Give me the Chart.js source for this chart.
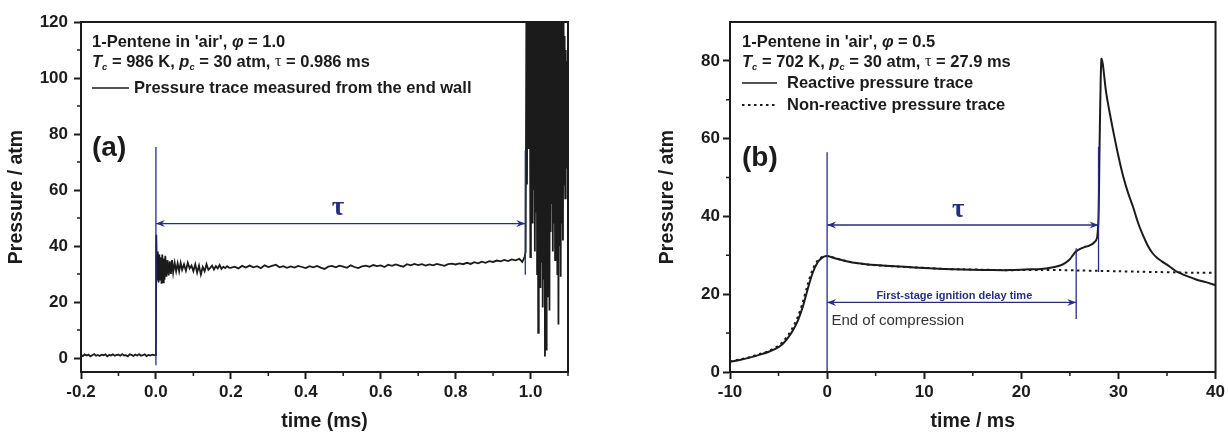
<!DOCTYPE html>
<html>
<head>
<meta charset="utf-8">
<script src="https://cdn.jsdelivr.net/npm/chart.js@4.4.1/dist/chart.umd.min.js"></script>
<style>
  html, body { margin: 0; padding: 0; background: #fff; }
  #wrap { position: relative; width: 1228px; height: 433px; }
  .box { position: absolute; top: 0; width: 614px; height: 433px; }
</style>
</head>
<body>
<div id="wrap">
  <div class="box" style="left:0"><canvas id="chartA" width="614" height="433"></canvas></div>
  <div class="box" style="left:614px"><canvas id="chartB" width="614" height="433"></canvas></div>
</div>
<script>
// (a) pressure trace, phi = 1.0
const timeA = [
  -0.2, -0.195, -0.19, -0.185, -0.18, -0.175, -0.17, -0.165, -0.16, -0.155,
  -0.15, -0.145, -0.14, -0.135, -0.13, -0.125, -0.12, -0.115, -0.11, -0.105,
  -0.1, -0.095, -0.09, -0.085, -0.08, -0.075, -0.07, -0.065, -0.06, -0.055,
  -0.05, -0.045, -0.04, -0.035, -0.03, -0.025, -0.02, -0.015, -0.01, -0.005,
  0, 0.001, 0.003, 0.005, 0.007, 0.009, 0.011, 0.013, 0.015, 0.017, 0.019, 0.021, 0.023, 0.025,
  0.028, 0.031, 0.034, 0.037, 0.04, 0.043, 0.046, 0.05, 0.054, 0.058, 0.062, 0.066, 0.07,
  0.075, 0.08, 0.085, 0.09, 0.095, 0.1, 0.105, 0.11, 0.115, 0.12, 0.125, 0.13, 0.135, 0.14,
  0.145, 0.15, 0.155, 0.16, 0.165, 0.17, 0.175, 0.18, 0.185, 0.19, 0.195, 0.2,
  0.21, 0.22, 0.23, 0.24, 0.25, 0.26, 0.27, 0.28, 0.29, 0.3,
  0.31, 0.32, 0.33, 0.34, 0.35, 0.36, 0.37, 0.38, 0.39, 0.4,
  0.41, 0.42, 0.43, 0.44, 0.45, 0.46, 0.47, 0.48, 0.49, 0.5,
  0.51, 0.52, 0.53, 0.54, 0.55, 0.56, 0.57, 0.58, 0.59, 0.6,
  0.61, 0.62, 0.63, 0.64, 0.65, 0.66, 0.67, 0.68, 0.69, 0.7,
  0.71, 0.72, 0.73, 0.74, 0.75, 0.76, 0.77, 0.78, 0.79, 0.8,
  0.81, 0.82, 0.83, 0.84, 0.85, 0.86, 0.87, 0.88, 0.89, 0.9,
  0.91, 0.92, 0.93, 0.94, 0.95, 0.96, 0.97, 0.978, 0.984, 0.987,
  0.989, 0.9905, 0.992, 0.9935, 0.995, 0.9965, 0.998, 0.9995, 1.001, 1.0025,
  1.004, 1.0055, 1.007, 1.0085, 1.01, 1.0115, 1.013, 1.0145, 1.016, 1.0175,
  1.019, 1.0205, 1.022, 1.0235, 1.025, 1.0265, 1.028, 1.0295, 1.031, 1.0325,
  1.034, 1.0355, 1.037, 1.0385, 1.04, 1.0415, 1.043, 1.0445, 1.046, 1.0475,
  1.049, 1.0505, 1.052, 1.0535, 1.055, 1.0565, 1.058, 1.0595, 1.061, 1.0625,
  1.064, 1.0655, 1.067, 1.0685, 1.07, 1.0715, 1.073, 1.0745, 1.076, 1.0775,
  1.079, 1.0805, 1.082, 1.0835, 1.085, 1.0865, 1.088, 1.0895, 1.091, 1.0925,
  1.094, 1.0955, 1.097, 1.0985, 1.1
];
const pressureA = [
  1.1, 0.7, 1.3, 0.9, 1.2, 0.6, 1.0, 1.4, 0.8, 1.1,
  0.7, 1.2, 1.0, 1.3, 0.6, 1.1, 0.9, 1.3, 0.8, 1.1,
  1.2, 0.8, 1.4, 0.9, 1.0, 0.6, 1.3, 1.1, 0.7, 1.2,
  0.9, 1.4, 0.8, 1.0, 1.3, 0.7, 1.1, 0.9, 1.2, 1.0,
  1.0, 44, 28, 38, 27, 37, 28, 36, 26.5, 37, 27, 35.5, 28, 36.5,
  29, 35, 29.5, 34.5, 30, 35, 30.5, 34, 31, 33.8, 31, 34, 31.5,
  33.5, 31.2, 34, 32, 33, 31, 33.5, 30.5, 33, 29.8, 32.5, 31, 33.5, 31.5,
  32.2, 33, 31.6, 32.8, 32, 33.2, 31.8, 32.6, 32.1, 32.8, 32.3, 32.2,
  32.6, 32.0, 32.9, 32.3, 33.0, 32.4, 32.8, 32.1, 33.1, 32.5,
  32.9, 33.3, 32.4, 32.8, 32.2, 32.7, 32.3, 32.9, 32.5, 32.1,
  32.8, 32.4, 32.9, 32.3, 31.8, 32.6, 32.9, 32.4, 33.0, 32.6,
  32.2, 33.1, 32.5, 32.1, 32.7, 33.0, 32.6, 33.2, 32.8, 33.1,
  32.5, 33.3, 32.9, 33.4, 33.0, 32.6, 33.5, 33.1, 33.6, 33.2,
  33.5, 33.0, 33.4, 33.1, 33.6, 33.3, 32.9, 33.5, 33.7, 33.4,
  33.8, 33.5, 34.0, 33.6, 34.2, 33.8, 34.4, 34.0, 34.6, 34.3,
  34.8, 34.5, 35.0, 34.6, 35.2, 34.9, 35.4, 34.3, 36.0, 38,
  130, 62, 140, 75, 135, 88, 140, 36, 132, 70,
  140, 48, 130, 60, 138, 38, 135, 52, 140, 30,
  128, 9, 140, 42, 132, 25, 138, 34, 130, 18,
  140, 28, 135, 0.5, 130, 3, 138, 22, 132, 40,
  140, 17, 128, 45, 136, 55, 124, 38, 133, 48,
  122, 35, 130, 58, 126, 30, 135, 12, 120, 40,
  128, 29, 118, 48, 125, 42, 130, 62, 115, 57,
  110, 68, 106, 72, 100
];

// (b) reactive and non-reactive traces, phi = 0.5
const timeB = [-10, -9, -8, -7, -6, -5, -4.5, -4, -3.5, -3, -2.5, -2, -1.5, -1, -0.5, 0,
  1, 2, 3, 4, 5, 7, 9, 11, 13, 15, 17, 19, 21, 22, 23, 24, 24.5, 25, 25.3, 25.6,
  26, 26.5, 27, 27.5, 27.8, 27.95, 28.05, 28.15, 28.25, 28.4, 28.7, 29, 29.5, 30,
  30.5, 31, 31.5, 32, 32.5, 33, 33.5, 34, 34.5, 35, 35.5, 36, 37, 38, 39, 40];
const reactiveB = [2.6, 3.1, 3.7, 4.4, 5.2, 6.4, 7.4, 8.9, 10.8, 13.3, 16.8, 21.3, 25.4, 28.1, 29.4, 29.8,
  29.1, 28.5, 28.0, 27.7, 27.5, 27.2, 26.9, 26.6, 26.4, 26.3, 26.2, 26.2, 26.4, 26.5, 26.8, 27.4, 28.0, 29.0, 30.0, 30.9,
  31.6, 32.1, 32.5, 33.3, 34.5, 40, 57, 72, 80.5, 79, 72.5, 68, 61.5, 55.5,
  50.2, 46, 42.5, 38.5, 35.3, 32.6, 30.6, 29.3, 28.4, 27.6, 26.7, 25.8, 24.7, 23.8, 23.1, 22.3];
const timeNR = [-10, -9, -8, -7, -6, -5, -4.5, -4, -3.5, -3, -2.5, -2, -1.5, -1, -0.5, 0,
  2, 4, 6, 8, 10, 12, 14, 16, 18, 20, 22, 24, 26, 28, 30, 32, 34, 36, 38, 40];
const nonReactiveB = [2.7, 3.2, 3.8, 4.6, 5.4, 6.8, 7.9, 9.5, 11.6, 14.3, 18.0, 22.5, 26.3, 28.6, 29.6, 29.8,
  28.5, 27.7, 27.3, 27.0, 26.8, 26.5, 26.4, 26.3, 26.2, 26.2, 26.2, 26.2, 26.1, 26.0, 25.9, 25.8, 25.7, 25.6, 25.5, 25.5];

const minorXA = [-0.1, 0.1, 0.3, 0.5, 0.7, 0.9, 1.1];
const minorYA = [10, 30, 50, 70, 90, 110];
const minorXB = [-5, 5, 15, 25, 35];
const minorYB = [10, 30, 50, 70];

const INK = '#1b1b1b';
const NAVY = '#262f7f';
const FAM = '"Liberation Sans", Arial, sans-serif';
Chart.defaults.font.family = FAM;
Chart.defaults.color = INK;

const pts = (xs, ys) => xs.map((t, i) => ({ x: t, y: ys[i] }));

function runs(ctx, x, y, list) {
  let cx = x;
  list.forEach(r => {
    ctx.font = r[1];
    ctx.fillText(r[0], cx, y + (r[2] || 0));
    cx += ctx.measureText(r[0]).width;
  });
}
function head(ctx, x, y, dir) {
  ctx.beginPath();
  ctx.moveTo(x, y);
  ctx.lineTo(x - dir * 9, y - 3.5);
  ctx.lineTo(x - dir * 6, y);
  ctx.lineTo(x - dir * 9, y + 3.5);
  ctx.closePath();
  ctx.fill();
}
function span(ctx, x1, x2, y) {
  ctx.beginPath(); ctx.moveTo(x1, y); ctx.lineTo(x2, y); ctx.stroke();
  head(ctx, x1, y, -1); head(ctx, x2, y, 1);
}
function vline(ctx, x, y1, y2) {
  ctx.beginPath(); ctx.moveTo(x, y1); ctx.lineTo(x, y2); ctx.stroke();
}

const B = 'bold 16.5px ' + FAM;
const BI = 'italic bold 16.5px ' + FAM;
const SUB = 'italic bold 9.5px ' + FAM;
const TAU = '16px "Liberation Serif", serif';
const TAUBIG = 'bold 27px "Liberation Serif", serif';

const frame = {
  id: 'frame',
  afterDraw(chart, args, opts) {
    const { ctx, chartArea: a, scales: { x, y } } = chart;
    ctx.save();
    ctx.strokeStyle = INK;
    ctx.lineWidth = 2;
    ctx.strokeRect(a.left, a.top, a.right - a.left, a.bottom - a.top);
    ctx.lineWidth = 1.5;
    ctx.beginPath();
    opts.minorX.forEach(v => { const p = x.getPixelForValue(v); ctx.moveTo(p, a.bottom); ctx.lineTo(p, a.bottom + 4); });
    opts.minorY.forEach(v => { const p = y.getPixelForValue(v); ctx.moveTo(a.left, p); ctx.lineTo(a.left - 4, p); });
    ctx.stroke();
    ctx.restore();
  }
};

const annA = {
  id: 'annA',
  afterDatasetsDraw(chart) {
    const { ctx, chartArea: a, scales: { x, y } } = chart;
    ctx.save();
    ctx.strokeStyle = NAVY; ctx.fillStyle = NAVY; ctx.lineWidth = 1.3;
    vline(ctx, x.getPixelForValue(0), y.getPixelForValue(-2.6), y.getPixelForValue(75.4));
    vline(ctx, x.getPixelForValue(0.986), y.getPixelForValue(29.7), y.getPixelForValue(74));
    span(ctx, x.getPixelForValue(0), x.getPixelForValue(0.986), y.getPixelForValue(48));
    ctx.font = TAUBIG;
    ctx.textAlign = 'center'; ctx.textBaseline = 'middle';
    ctx.fillText('τ', x.getPixelForValue(0.486), y.getPixelForValue(53.6));

    ctx.fillStyle = INK; ctx.strokeStyle = INK; ctx.textAlign = 'left';
    const tx = a.left + 11;
    runs(ctx, tx, a.top + 20, [["1-Pentene in 'air', ", B], ['φ', BI], [' = 1.0', B]]);
    runs(ctx, tx, a.top + 40, [['T', BI], ['c', SUB, 5], [' = 986 K, ', B], ['p', BI], ['c', SUB, 5],
      [' = 30 atm, ', B], ['τ', TAU], [' = 0.986 ms', B]]);
    ctx.lineWidth = 1.6;
    ctx.beginPath(); ctx.moveTo(tx, a.top + 66); ctx.lineTo(tx + 37, a.top + 66); ctx.stroke();
    runs(ctx, tx + 42, a.top + 66, [['Pressure trace measured from the end wall', B]]);
    ctx.font = 'bold 28px ' + FAM;
    ctx.fillText('(a)', tx, a.top + 126);
    ctx.restore();
  }
};

const annB = {
  id: 'annB',
  afterDatasetsDraw(chart) {
    const { ctx, chartArea: a, scales: { x, y } } = chart;
    ctx.save();
    ctx.strokeStyle = NAVY; ctx.fillStyle = NAVY; ctx.lineWidth = 1.3;
    vline(ctx, x.getPixelForValue(0), y.getPixelForValue(0), y.getPixelForValue(56.5));
    vline(ctx, x.getPixelForValue(27.95), y.getPixelForValue(25.7), y.getPixelForValue(57.9));
    vline(ctx, x.getPixelForValue(25.65), y.getPixelForValue(13.6), y.getPixelForValue(31.8));
    span(ctx, x.getPixelForValue(0), x.getPixelForValue(27.95), y.getPixelForValue(37.8));
    span(ctx, x.getPixelForValue(0), x.getPixelForValue(25.65), y.getPixelForValue(17.9));
    ctx.textAlign = 'center'; ctx.textBaseline = 'middle';
    ctx.font = TAUBIG;
    ctx.fillText('τ', x.getPixelForValue(13.5), y.getPixelForValue(41.6));
    ctx.font = 'bold 11px ' + FAM;
    ctx.fillText('First-stage ignition delay time', x.getPixelForValue(13.1), y.getPixelForValue(19.6));
    ctx.textAlign = 'left';
    ctx.fillStyle = '#333';
    ctx.font = '15px ' + FAM;
    ctx.fillText('End of compression', x.getPixelForValue(0.45), y.getPixelForValue(13.2));

    ctx.fillStyle = INK; ctx.strokeStyle = INK;
    const tx = a.left + 12;
    runs(ctx, tx, a.top + 20, [["1-Pentene in 'air', ", B], ['φ', BI], [' = 0.5', B]]);
    runs(ctx, tx, a.top + 40, [['T', BI], ['c', SUB, 5], [' = 702 K, ', B], ['p', BI], ['c', SUB, 5],
      [' = 30 atm, ', B], ['τ', TAU], [' = 27.9 ms', B]]);
    ctx.lineWidth = 1.6;
    ctx.beginPath(); ctx.moveTo(tx, a.top + 61); ctx.lineTo(tx + 35, a.top + 61); ctx.stroke();
    ctx.setLineDash([2.5, 3.5]);
    ctx.lineWidth = 2;
    ctx.beginPath(); ctx.moveTo(tx, a.top + 83); ctx.lineTo(tx + 35, a.top + 83); ctx.stroke();
    ctx.setLineDash([]);
    runs(ctx, tx + 45, a.top + 61, [['Reactive pressure trace', B]]);
    runs(ctx, tx + 45, a.top + 83, [['Non-reactive pressure trace', B]]);
    ctx.font = 'bold 28px ' + FAM;
    ctx.fillText('(b)', tx, a.top + 136);
    ctx.restore();
  }
};

function axes(cfg) {
  const tickFont = { size: 17, weight: 'bold' };
  const titleFont = { size: 19.5, weight: 'bold' };
  const grid = { display: true, drawOnChartArea: false, drawTicks: true, tickLength: 7, tickWidth: 2, tickColor: INK };
  const border = { display: true, width: 2, color: INK };
  return {
    x: {
      type: 'linear', min: cfg.xmin, max: cfg.xmax,
      afterFit: s => { s.height = 61; },
      ticks: { stepSize: cfg.xstep, includeBounds: false, autoSkip: false, maxRotation: 0, font: tickFont, color: INK, padding: 3,
        callback: cfg.xfmt },
      grid, border,
      title: { display: true, text: cfg.xtitle, font: titleFont, color: INK, padding: { top: 0, bottom: 0 } }
    },
    y: {
      type: 'linear', min: cfg.ymin, max: cfg.ymax,
      afterFit: s => { s.width = cfg.ywidth; },
      ticks: { stepSize: 20, includeBounds: false, autoSkip: false, font: tickFont, color: INK, padding: cfg.ypad },
      grid, border,
      title: { display: true, text: 'Pressure / atm', font: titleFont, color: INK, padding: { top: cfg.ytitlePad, bottom: 0 } }
    }
  };
}

new Chart(document.getElementById('chartA'), {
  type: 'line',
  data: {
    datasets: [{
      data: pts(timeA, pressureA),
      borderColor: INK, borderWidth: 1.8, pointRadius: 0, tension: 0
    }]
  },
  options: {
    responsive: false, animation: false,
    layout: { padding: { top: 22, right: 46, bottom: 0, left: 0 } },
    plugins: { legend: { display: false }, tooltip: { enabled: false },
      frame: { minorX: minorXA, minorY: minorYA } },
    scales: axes({ xmin: -0.2, xmax: 1.1, xstep: 0.2, xfmt: v => v.toFixed(1), xtitle: 'time (ms)',
      ymin: -5, ymax: 120, ywidth: 81, ypad: 6, ytitlePad: 5 })
  },
  plugins: [frame, annA]
});

new Chart(document.getElementById('chartB'), {
  type: 'line',
  data: {
    datasets: [
      { data: pts(timeB, reactiveB), borderColor: INK, borderWidth: 2, pointRadius: 0, tension: 0.3 },
      { data: pts(timeNR, nonReactiveB), borderColor: INK, borderWidth: 2, borderDash: [2.5, 3.5], pointRadius: 0, tension: 0.3 }
    ]
  },
  options: {
    responsive: false, animation: false,
    layout: { padding: { top: 22, right: 11, bottom: 0, left: 0 } },
    plugins: { legend: { display: false }, tooltip: { enabled: false },
      frame: { minorX: minorXB, minorY: minorYB } },
    scales: axes({ xmin: -10, xmax: 40, xstep: 10, xfmt: v => String(v), xtitle: 'time / ms',
      ymin: 0, ymax: 90, ywidth: 116, ypad: 3, ytitlePad: 42 })
  },
  plugins: [frame, annB]
});
</script>
</body>
</html>
